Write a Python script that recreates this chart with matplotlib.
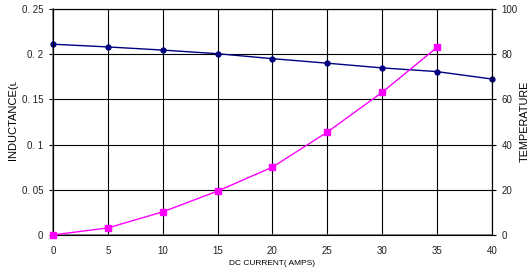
import matplotlib
matplotlib.use('Agg')
import matplotlib.pyplot as plt
from matplotlib.transforms import Bbox

plt.rcParams['font.family'] = ['Liberation Sans', 'DejaVu Sans']

current = [0, 5, 10, 15, 20, 25, 30, 35, 40]
inductance = [0.211, 0.208, 0.2045, 0.2005, 0.195, 0.19, 0.1848, 0.1807, 0.1725]
temp_current = [0, 5, 10, 15, 20, 25, 30, 35]
temperature = [0, 3.1, 10.2, 19.4, 30.0, 45.5, 63.1, 83.0]

left_ticks = [0, 0.05, 0.1, 0.15, 0.2, 0.25]
left_labels = ['0', '0. 05', '0. 1', '0. 15', '0. 2', '0. 25']
right_ticks = [0, 20, 40, 60, 80, 100]

fig = plt.figure(figsize=(5.3, 2.8), dpi=100)
ax = fig.add_axes([0.1, 0.161, 0.828, 0.807])
ax2 = ax.twinx()

ax.set_xlim(0, 40)
ax.set_ylim(0, 0.25)
ax2.set_ylim(0, 100)
ax.set_xticks(current)
ax.set_yticks(left_ticks)
ax.set_yticklabels(left_labels)
ax2.set_yticks(right_ticks)

ax.grid(True, color='black', linewidth=0.8)
ax.set_axisbelow(True)
for a in (ax, ax2):
    a.tick_params(labelsize=7, length=3, width=0.8, pad=4, labelcolor='#222222')
    for s in a.spines.values():
        s.set_linewidth(0.8)
        s.set_color('black')
ax.spines['left'].set_color('#707070')
ax.spines['left'].set_linewidth(1.2)
ax.spines['bottom'].set_color('#707070')
ax.spines['bottom'].set_linewidth(1.2)
ax.tick_params(axis='x', length=0, pad=8)

ax.plot(current, inductance, color='#000080', linewidth=1, marker='o',
        markersize=3.5, clip_on=False, zorder=5)
ax2.plot(temp_current, temperature, color='#FF00FF', linewidth=1, marker='s',
         markersize=4.5, clip_on=False, zorder=5)

ax.set_xlabel('DC CURRENT( AMPS)', fontsize=6, labelpad=3)

# axis titles are cut off in the original picture
clip = Bbox.from_extents(0, 0, 530, 280 - 82)
t1 = fig.text(0.024, 0.43, 'INDUCTANCE(uH)', rotation=90, fontsize=8,
              ha='center', va='bottom')
t1.set_clip_box(clip)
t1.set_clip_on(True)
fig.text(0.99, 0.565, 'TEMPERATURE', rotation=90, fontsize=7.8,
         ha='center', va='center')

fig.savefig('out.png', dpi=100)
